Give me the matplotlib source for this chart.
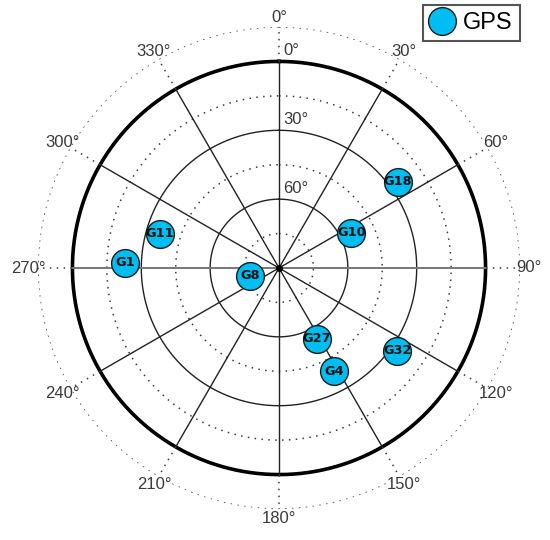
import numpy as np
import matplotlib
matplotlib.use("Agg")
import matplotlib.pyplot as plt

# ---- data ----
sat_names = ["G1", "G4", "G8", "G10", "G11", "G18", "G27", "G32"]
sat_azimuth = [272, 152, 255, 64, 286, 54, 152, 125]      # degrees
sat_elevation = [23, 39, 77, 55, 36, 26, 55, 27]          # degrees
azimuth_ticks = [0, 30, 60, 90, 120, 150, 180, 210, 240, 270, 300, 330]
elevation_labels = [0, 30, 60]
solid_rings = [30, 60]            # elevation
dotted_rings = [75, 45, 15, -15]  # elevation

plt.rcParams['font.family'] = ['Liberation Sans', 'DejaVu Sans']

fig = plt.figure(figsize=(5.5, 5.4), dpi=100)
ax = fig.add_axes([38/550, 31/540, 482/550, 482/540], projection='polar')
ax.set_theta_zero_location('N')
ax.set_theta_direction(-1)
ax.set_rlim(0, 105)
ax.set_axis_off()

th = np.linspace(0, 2*np.pi, 721)
dot = (0, (1.0, 3.5))
dcol = '#3c3c3c'
# rings
ax.plot(th, np.full_like(th, 90), color='black', lw=2.6, zorder=2)
for e in solid_rings:
    ax.plot(th, np.full_like(th, 90 - e), color='#222222', lw=1.0, zorder=2)
for e in dotted_rings:
    ax.plot(th, np.full_like(th, 90 - e), color=dcol, lw=1.1, ls=dot, zorder=2)

# spokes
for a in azimuth_ticks:
    t = np.deg2rad(a)
    col = '#777777' if a in (90, 270) else '#222222'
    lw = 1.4 if a in (90, 270) else 1.0
    ax.plot([t, t], [0, 90], color=col, lw=lw, zorder=2)
    ax.plot([t, t], [90, 105], color=dcol, lw=1.1, ls=dot, zorder=2)
    ax.text(t, 109, f"{a}°", ha='center', va='center', fontsize=12, color='#3a3a3a')

ax.plot([0], [0], 'o', color='black', ms=4, zorder=3)

# elevation labels
for e in elevation_labels:
    ax.annotate(f"{e}°", xy=(0, 90 - e), xytext=(3, 2.5), textcoords='offset points',
                ha='left', va='bottom', fontsize=12, color='#3a3a3a')

# satellites
th_s = np.deg2rad(sat_azimuth)
r_s = 90 - np.array(sat_elevation)
ax.plot(th_s, r_s, 'o', ms=20, mfc='#00BEF2', mec='#1a1a1a', mew=1.0, ls='none',
        label='GPS', zorder=4)
for n, t, r in zip(sat_names, th_s, r_s):
    ax.text(t, r, n, ha='center', va='center', fontsize=9.3, fontweight='bold',
            family=['DejaVu Sans'], color='#111111', zorder=5)

leg = fig.legend(loc='upper right', bbox_to_anchor=(520/550, 1 - 5/540),
                 fontsize=17, frameon=True, fancybox=False, edgecolor='#555555',
                 framealpha=1, borderpad=0.3, handlelength=1.0, handletextpad=0.4,
                 borderaxespad=0)
leg.get_frame().set_linewidth(1.5)

fig.savefig('out.png', dpi=100)
